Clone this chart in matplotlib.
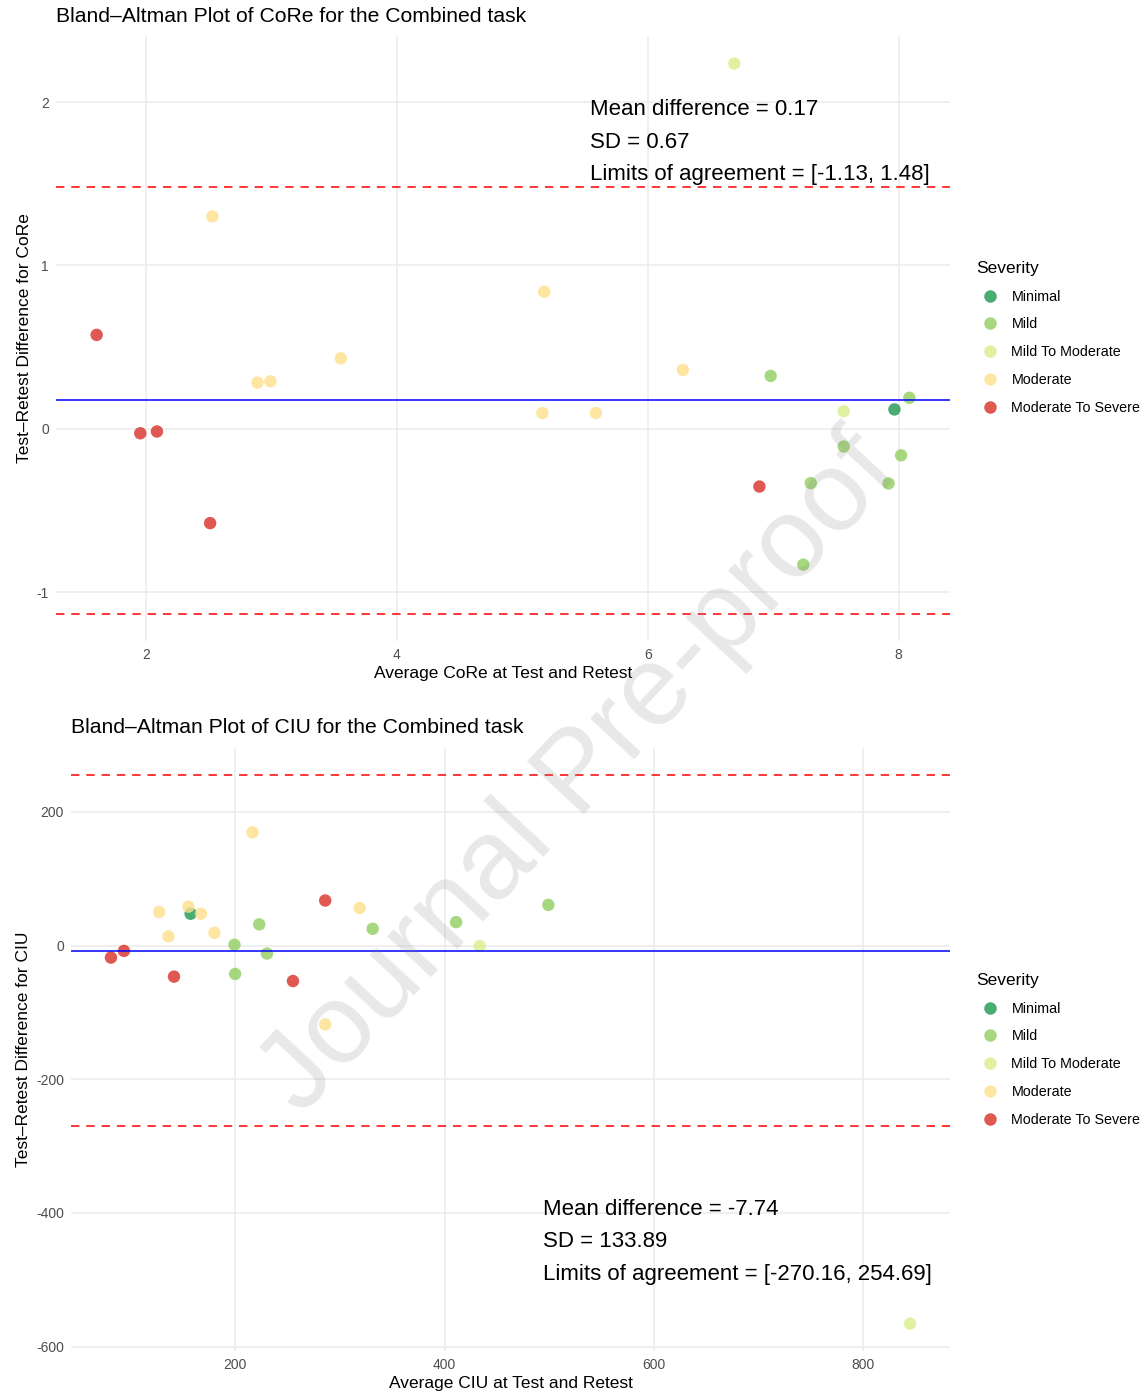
"""Bland-Altman plots of CoRe and CIU (test-retest), combined task."""
import numpy as np
import matplotlib
matplotlib.use("Agg")
import matplotlib.pyplot as plt
from matplotlib.lines import Line2D

plt.rcParams["font.family"] = ["Liberation Sans", "DejaVu Sans"]
plt.rcParams["axes.unicode_minus"] = False

SEVERITIES = ["Minimal", "Mild", "Mild To Moderate", "Moderate", "Moderate To Severe"]
COLORS = {
    "Minimal": "#1a9850",
    "Mild": "#91cf60",
    "Mild To Moderate": "#d9ef8b",
    "Moderate": "#fee08b",
    "Moderate To Severe": "#d73027",
}

# CoRe: average of test & retest, difference, severity
core_mean = [1.605, 1.953, 2.086, 2.51, 6.89,
             2.528, 2.888, 2.991, 3.552, 5.174, 5.159, 5.586, 6.28,
             6.69, 7.5625,
             6.98, 7.5625, 8.086, 8.02, 7.30, 7.92, 7.24,
             7.967]
core_diff = [0.575, -0.027, -0.016, -0.577, -0.353,
             1.300, 0.283, 0.291, 0.432, 0.839, 0.097, 0.097, 0.361,
             2.236, 0.108,
             0.324, -0.108, 0.19, -0.162, -0.332, -0.334, -0.831,
             0.119]
core_sev = (["Moderate To Severe"] * 5 + ["Moderate"] * 8 + ["Mild To Moderate"] * 2
            + ["Mild"] * 7 + ["Minimal"])
core_stats = {"mean": 0.1745, "sd": 0.67, "lo": -1.13, "hi": 1.48}
core_label = "Mean difference = 0.17\nSD = 0.67\nLimits of agreement = [-1.13, 1.48]"

# CIU
ciu_mean = [81.4, 93.8, 141.6, 255.2, 286.0,
            127.4, 136.3, 155.4, 167.4, 180.2, 216.6, 286.0, 318.9,
            157.5,
            199.3, 200.0, 223.0, 230.4, 331.3, 411.0, 499.1,
            433.6, 844.5]
ciu_diff = [-17.9, -7.9, -46.4, -53.0, 67.5,
            50.3, 13.9, 58.3, 47.7, 19.2, 169.5, -117.9, 56.3,
            47.7,
            1.3, -42.4, 31.8, -11.9, 25.2, 35.1, 60.9,
            -0.7, -565.6]
ciu_sev = (["Moderate To Severe"] * 5 + ["Moderate"] * 8 + ["Minimal"]
           + ["Mild"] * 7 + ["Mild To Moderate"] * 2)
ciu_stats = {"mean": -7.74, "sd": 133.89, "lo": -270.16, "hi": 254.69}
ciu_label = "Mean difference = -7.74\nSD = 133.89\nLimits of agreement = [-270.16, 254.69]"

W, H = 1145, 1395
fig = plt.figure(figsize=(W / 100, H / 100), dpi=100)


def px_axes(left, top, right, bottom):
    return fig.add_axes([left / W, 1 - bottom / H, (right - left) / W, (bottom - top) / H])


def expand(vals):
    lo, hi = min(vals), max(vals)
    pad = (hi - lo) * 0.05
    return lo - pad, hi + pad


def bland_altman(ax, x, d, sev, stats, label, measure, xticks, yticks, txt_xy,
                 title_px, leg_top_px, ylab_x):
    x = np.array(x)
    d = np.array(d)
    sev = np.array(sev)
    for s in SEVERITIES:
        m = sev == s
        ax.scatter(x[m], d[m], s=80, color=COLORS[s], alpha=0.8, edgecolors="none", zorder=2)
    ax.axhline(stats["mean"], color="#0000FF", lw=1.1, zorder=3)
    for v in (stats["lo"], stats["hi"]):
        ax.axhline(v, color="#FF0000", lw=1.1, ls=(0, (5.5, 4.5)), zorder=3)

    ax.set_xlim(*expand(list(x)))
    ax.set_ylim(*expand(list(d) + [stats["lo"], stats["hi"]]))
    ax.set_xticks(xticks)
    ax.set_yticks(yticks)
    for sp in ax.spines.values():
        sp.set_visible(False)
    ax.grid(True, color="#EBEBEB", lw=1.1)
    ax.set_axisbelow(True)
    ax.tick_params(length=0, labelsize=10, labelcolor="#4D4D4D", pad=5)

    ax.set_xlabel(f"Average {measure} at Test and Retest", fontsize=12.5, color="black")
    ax.set_ylabel(f"Test\u2013Retest Difference for {measure}", fontsize=12.5, color="black")
    ax.xaxis.set_label_coords(0.5, -0.042)
    ax.yaxis.set_label_coords(ylab_x, 0.5)

    ax.text(txt_xy[0], txt_xy[1], label, fontsize=16, ha="left", va="center",
            linespacing=1.72, zorder=4)

    pos = ax.get_position()
    fig.text(pos.x0, 1 - title_px / H, f"Bland\u2013Altman Plot of {measure} for the Combined task",
             fontsize=15.2, ha="left", va="center")

    handles = [Line2D([], [], ls="none", marker="o", ms=9, color=COLORS[s], alpha=0.8,
                      markeredgewidth=0) for s in SEVERITIES]
    leg = fig.legend(handles, SEVERITIES, title="Severity", loc="upper left",
                     bbox_to_anchor=(970 / W, 1 - leg_top_px / H), frameon=False,
                     fontsize=10.3, title_fontsize=12.5, labelspacing=0.97,
                     handlelength=2.0, handletextpad=0.5, borderaxespad=0)
    leg._legend_box.align = "left"


ax1 = px_axes(56, 36, 950, 641)
bland_altman(ax1, core_mean, core_diff, core_sev, core_stats, core_label, "CoRe",
             [2, 4, 6, 8], [-1, 0, 1, 2], (5.54, 1.755), 16, 255, -0.0268)

ax2 = px_axes(71, 748, 950, 1351)
bland_altman(ax2, ciu_mean, ciu_diff, ciu_sev, ciu_stats, ciu_label, "CIU",
             [200, 400, 600, 800], [-600, -400, -200, 0, 200], (494, -443), 728, 967, -0.0456)

# "Journal Pre-proof" watermark over the page
fig.text(580 / W, 1 - 775 / H, "Journal Pre-proof", fontsize=82, color="#808080", alpha=0.18,
         rotation=47, ha="center", va="center", rotation_mode="anchor", zorder=10)

fig.savefig("out.png", dpi=100)
